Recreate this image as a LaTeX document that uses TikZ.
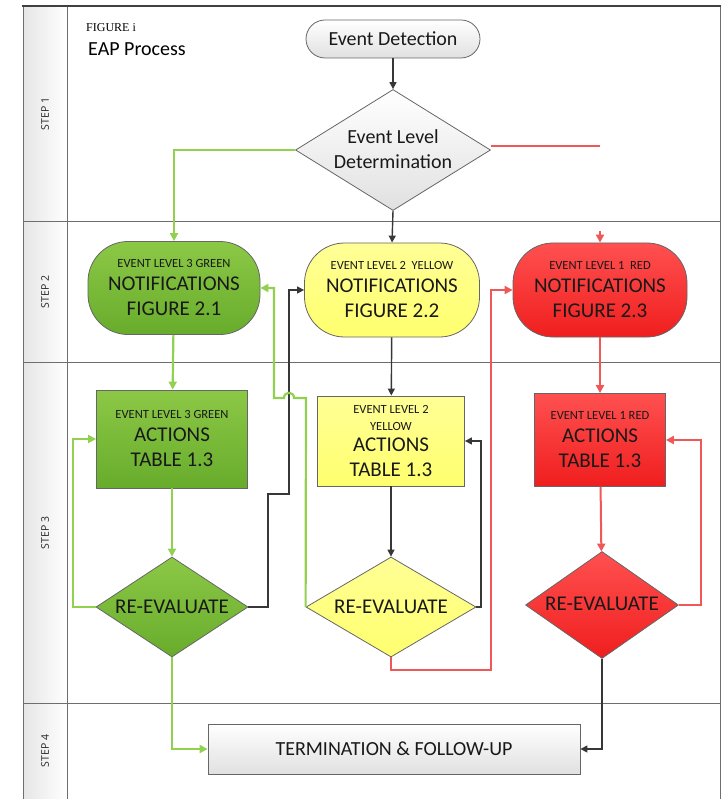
\documentclass[tikz,border=0pt]{standalone}
\usepackage{fontspec}
\setmainfont{Carlito}
\newfontfamily\figserif{Liberation Serif}
\newfontfamily\lanefont{Open Sans}
\usetikzlibrary{shapes.geometric,arrows.meta}
\definecolor{GL}{RGB}{146,208,80}
\definecolor{RL}{RGB}{240,88,88}
\definecolor{BL}{RGB}{55,55,55}
\definecolor{GT}{RGB}{140,200,70}
\definecolor{GB}{RGB}{104,172,44}
\definecolor{YT}{RGB}{255,255,150}
\definecolor{YB}{RGB}{255,255,110}
\definecolor{RT}{RGB}{255,80,80}
\definecolor{RB}{RGB}{240,30,30}
\definecolor{FR}{RGB}{110,110,110}
\newcommand\SZs{\fontsize{12.5}{15}\selectfont}
\newcommand\SZb{\fontsize{21}{25}\selectfont}
\newcommand\SZm{\fontsize{20}{25}\selectfont}
\begin{document}
\begin{tikzpicture}[x=1pt,y=-1pt,
  gfill/.style={top color=GT,bottom color=GB,draw=black!60,line width=0.8pt},
  yfill/.style={top color=YT,bottom color=YB,draw=black!60,line width=0.8pt},
  rfill/.style={top color=RT,bottom color=RB,draw=black!60,line width=0.8pt},
  wfill/.style={top color=white,bottom color=black!12,draw=black!60,line width=0.8pt},
  pill/.style={rectangle,rounded corners=40pt,inner sep=0pt,align=center,text=black!90},
  box/.style={rectangle,inner sep=0pt,align=center,text=black!90},
  dia/.style={diamond,inner sep=0pt},
  txt/.style={inner sep=0pt,align=center,text=black!90},
  gline/.style={draw=GL,line width=2.2pt,-{Triangle[length=8pt,width=8pt]}},
  rline/.style={draw=RL,line width=2pt,-{Triangle[length=8pt,width=8pt]}},
  bline/.style={draw=BL,line width=1.4pt,-{Triangle[length=7pt,width=7pt]}},
  lane/.style={draw=FR,line width=1pt},
  lanetxt/.style={rotate=90,font=\lanefont\fontsize{10.5}{12}\selectfont,text=black!85}
]
\useasboundingbox (0,0) rectangle (724,799);
% swimlane frame
\fill[left color=black!10,right color=white] (23,6) rectangle (67,799);
\draw[lane] (23,6) -- (23,799);
\draw[lane] (67,6) -- (67,799);
\draw[lane] (720,6) -- (720,799);
\draw[lane] (23,222) -- (720,222);
\draw[lane] (23,362) -- (720,362);
\draw[lane] (23,703) -- (720,703);
\draw[draw=black!75,line width=2.5pt] (22,6) -- (721,6);
\node[lanetxt] (s1) at (45,114) {STEP 1};
\node[lanetxt] (s2) at (45,292) {STEP 2};
\node[lanetxt] (s3) at (45,533) {STEP 3};
\node[lanetxt] (s4) at (45,751) {STEP 4};
% title
\node[anchor=west,inner sep=0pt,font=\figserif\fontsize{12}{14}\selectfont] (fig) at (86,28) {FIGURE i};
\node[anchor=west,inner sep=0pt,font=\SZm] (eap) at (88,49) {EAP Process};
% step 1
\node[pill,wfill,rounded corners=19pt,minimum width=174pt,minimum height=38pt,font=\SZm] (ed) at (393,39) {Event\ Detection};
\node[dia,wfill,minimum width=195pt,minimum height=121pt] (eld) at (393,150) {};
\node[txt,font=\SZm] (eldt) at (393,149) {Event Level\\Determination};
\coordinate (redend) at (600,146);
\coordinate (redtip) at (600,231);
% step 2
\node[pill,gfill,minimum width=172pt,minimum height=93pt,font=\SZb] (gnot) at (174,288)
  {{\SZs EVENT LEVEL 3 GREEN}\\[-2pt]NOTIFICATIONS\\FIGURE 2.1};
\node[pill,yfill,minimum width=175pt,minimum height=94pt,font=\SZb] (ynot) at (392,290)
  {{\SZs EVENT LEVEL 2\ \ YELLOW}\\[-2pt]NOTIFICATIONS\\FIGURE 2.2};
\node[pill,rfill,minimum width=174pt,minimum height=94pt,font=\SZb] (rnot) at (600,290)
  {{\SZs EVENT LEVEL 1\ \ RED}\\[-2pt]NOTIFICATIONS\\FIGURE 2.3};
% step 3
\node[box,gfill,minimum width=151pt,minimum height=98pt,font=\SZb] (gact) at (172,439)
  {{\SZs EVENT LEVEL 3 GREEN}\\[-2pt]ACTIONS\\TABLE 1.3};
\node[box,yfill,minimum width=147pt,minimum height=90pt,font=\SZb] (yact) at (391,441)
  {{\SZs EVENT LEVEL 2}\\[-8pt]{\SZs YELLOW}\\[-4pt]ACTIONS\\TABLE 1.3};
\node[box,rfill,minimum width=131pt,minimum height=93pt,font=\SZb] (ract) at (600,440)
  {{\SZs EVENT LEVEL 1 RED}\\[-2pt]ACTIONS\\TABLE 1.3};
\node[dia,gfill,minimum width=152pt,minimum height=100pt] (grev) at (172,607) {};
\node[txt,font=\SZb] (grevt) at (172,607) {RE-EVALUATE};
\node[dia,yfill,minimum width=170pt,minimum height=100pt] (yrev) at (391,607) {};
\node[txt,font=\SZb] (yrevt) at (391,607) {RE-EVALUATE};
\node[dia,rfill,minimum width=153pt,minimum height=107pt] (rrev) at (602,605) {};
\node[txt,font=\SZb] (rrevt) at (602,604) {RE-EVALUATE};
% step 4
\node[box,wfill,minimum width=372pt,minimum height=50pt,font=\SZm] (term) at (394,749) {TERMINATION \& FOLLOW-UP};
% connectors
\draw[bline] (ed) -- (eld);
\draw[bline] (eld.south) -- (ynot.north);
\draw[gline] (eld.west) -| (gnot.north);
\draw[draw=RL,line width=2pt] (eld.east |- redend) -- (redend);
\draw[rline] (redtip) -- (rnot.north);
% green column
\draw[gline] (gnot) -- (gact);
\draw[gline] (gact) -- (grev);
\draw[gline] (grev.west) -| (73,520) |- (gact.west);
\draw[gline] (grev.south) |- (term.west);
\draw[bline] (grev.east) -| (268,494) -- (289,494) |- (ynot.west);
\draw[gline] (yrev.west) -- (306,398) -- (294,398) .. controls (294,391) and (284,391) .. (284,398) -- (274,398) |- (gnot.east);
% yellow column
\draw[bline] (ynot) -- (yact);
\draw[bline] (yact) -- (yrev);
\draw[bline] (yrev.east) -| (481,520) |- (yact.east);
\draw[rline] (yrev.south) |- (491,670) |- (rnot.west);
% red column
\draw[rline] (rnot) -- (ract);
\draw[rline] (ract) -- (rrev);
\draw[rline] (rrev.east) -| (701,520) |- (ract.east);
\draw[bline] (rrev.south) |- (term.east);
\end{tikzpicture}
\end{document}
